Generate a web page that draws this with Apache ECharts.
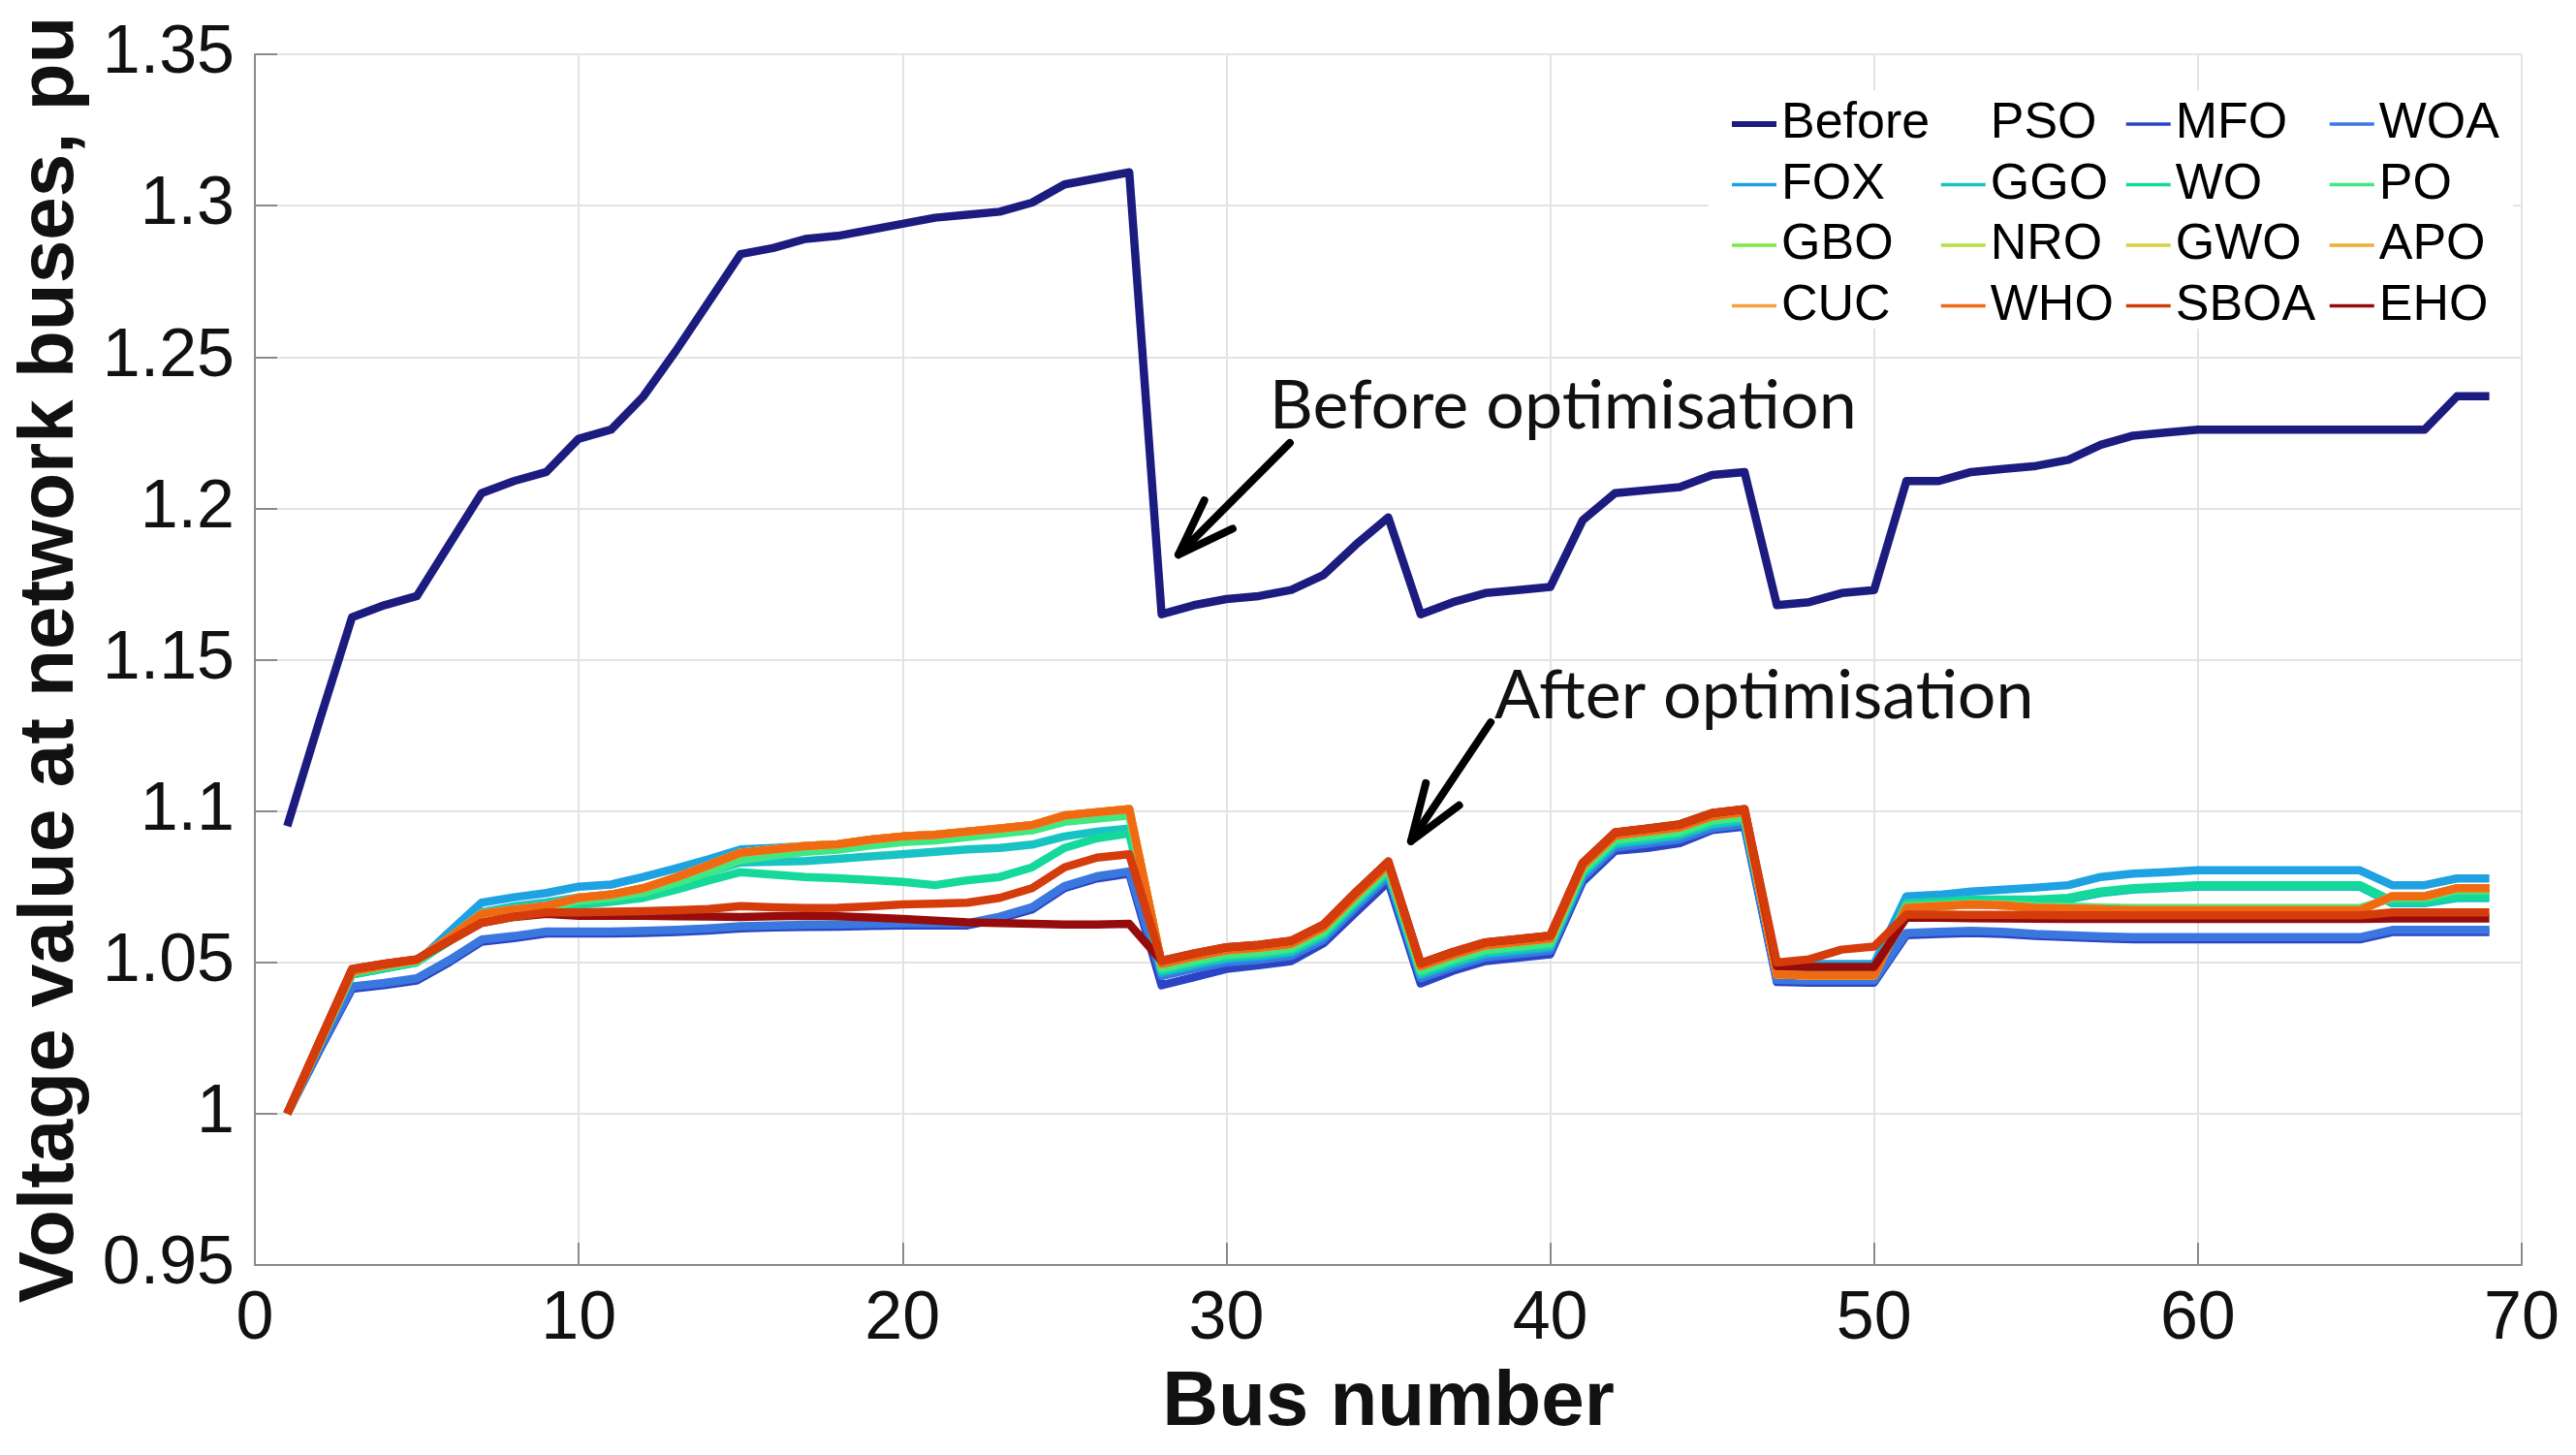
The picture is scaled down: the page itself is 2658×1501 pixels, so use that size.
<!DOCTYPE html>
<html>
<head>
<meta charset="utf-8">
<script src="https://cdn.jsdelivr.net/npm/echarts@6/dist/echarts.min.js"></script>
<style>
  html, body { margin: 0; padding: 0; background: #fff; }
  #main { width: 2658px; height: 1501px; }
</style>
</head>
<body>
<div id="main"></div>
<script>
"use strict";

// bus numbers of the 69-bus network
const buses = [1,2,3,4,5,6,7,8,9,10,11,12,13,14,15,16,17,18,19,20,
  21,22,23,24,25,26,27,28,29,30,31,32,33,34,35,36,37,38,39,40,
  41,42,43,44,45,46,47,48,49,50,51,52,53,54,55,56,57,58,59,60,
  61,62,63,64,65,66,67,68,69];

// voltage before optimisation
const before = [1.095,1.130,1.164,1.168,1.171,1.188,1.205,1.209,1.212,1.223,
  1.226,1.237,1.252,1.268,1.284,1.286,1.289,1.290,1.292,1.294,
  1.296,1.297,1.298,1.301,1.307,1.309,1.311,1.165,1.168,1.170,
  1.171,1.173,1.178,1.188,1.197,1.165,1.169,1.172,1.173,1.174,
  1.196,1.205,1.206,1.207,1.211,1.212,1.168,1.169,1.172,1.173,
  1.209,1.209,1.212,1.213,1.214,1.216,1.221,1.224,1.225,1.226,
  1.226,1.226,1.226,1.226,1.226,1.226,1.226,1.237,1.237];

// PSO has no visible curve in the figure
const pso = [];

const mfo = [1.000,1.021,1.0413,1.0425,1.044,1.050,1.0568,1.058,1.0595,1.0595,
  1.0595,1.0597,1.060,1.0605,1.0612,1.0615,1.0617,1.0618,1.062,1.0622,
  1.0622,1.0622,1.0644,1.0675,1.0745,1.0777,1.0793,1.0424,1.0451,1.0478,
  1.049,1.0504,1.0563,1.0665,1.0766,1.043,1.0472,1.0504,1.0515,1.0526,
  1.0766,1.0868,1.0878,1.0894,1.0937,1.0948,1.0435,1.0433,1.0433,1.0433,
  1.059,1.0594,1.0597,1.0594,1.0587,1.0583,1.0579,1.0576,1.0576,1.0576,
  1.0576,1.0576,1.0576,1.0576,1.0576,1.060,1.060,1.060,1.060];

const woa = [1.000,1.0215,1.042,1.0432,1.0447,1.0507,1.0575,1.0587,1.0602,1.0602,
  1.0602,1.0604,1.0607,1.0612,1.0619,1.0622,1.0624,1.0625,1.0627,1.0629,
  1.0629,1.0629,1.0651,1.0682,1.0752,1.0784,1.080,1.0455,1.0479,1.050,
  1.0508,1.0521,1.0575,1.0682,1.0783,1.0447,1.0484,1.0516,1.0527,1.0538,
  1.0778,1.0879,1.0892,1.0906,1.0943,1.0956,1.0442,1.044,1.044,1.044,
  1.0597,1.0601,1.0604,1.0601,1.0594,1.059,1.0586,1.0583,1.0583,1.0583,
  1.0583,1.0583,1.0583,1.0583,1.0583,1.0607,1.0607,1.0607,1.0607];

const fox = [1.000,1.023,1.046,1.048,1.050,1.060,1.0697,1.0715,1.0729,1.075,
  1.0757,1.0782,1.081,1.084,1.0873,1.0878,1.0884,1.089,1.090,1.0911,
  1.0916,1.0927,1.0937,1.0948,1.098,1.099,1.100,1.0465,1.0489,1.051,
  1.0518,1.0531,1.0585,1.0692,1.0793,1.0457,1.0494,1.0526,1.0537,1.0548,
  1.0788,1.0889,1.0902,1.0916,1.0953,1.0966,1.0475,1.0494,1.0494,1.0494,
  1.0718,1.0723,1.0734,1.074,1.0747,1.0755,1.0782,1.0793,1.0798,1.0804,
  1.0804,1.0804,1.0804,1.0804,1.0804,1.0755,1.0755,1.0777,1.0777];

const ggo = [1.000,1.0232,1.0465,1.0485,1.0503,1.058,1.0665,1.0685,1.0698,1.0715,
  1.0722,1.0738,1.0768,1.0798,1.083,1.0832,1.0835,1.0842,1.085,1.0857,
  1.0865,1.0873,1.0878,1.0889,1.0916,1.0932,1.0942,1.047,1.0494,1.0515,
  1.0523,1.0536,1.059,1.0697,1.0798,1.0462,1.0499,1.0531,1.0542,1.0553,
  1.0793,1.0894,1.0907,1.0921,1.0958,1.0971,1.0468,1.0468,1.0468,1.0468,
  1.069,1.0695,1.0702,1.0702,1.0702,1.0708,1.0729,1.074,1.0745,1.075,
  1.075,1.075,1.075,1.075,1.075,1.0695,1.0695,1.0712,1.0712];

const wo = [1.000,1.023,1.046,1.048,1.050,1.057,1.065,1.0668,1.068,1.069,
  1.070,1.0713,1.074,1.077,1.0798,1.079,1.0782,1.0778,1.0772,1.0766,
  1.0755,1.0771,1.0782,1.0814,1.0878,1.091,1.0926,1.0475,1.0499,1.052,
  1.0528,1.0541,1.0595,1.0702,1.0803,1.0467,1.0504,1.0536,1.0547,1.0558,
  1.0798,1.0899,1.0912,1.0926,1.0963,1.0976,1.0465,1.0462,1.0462,1.0462,
  1.0695,1.070,1.0707,1.0707,1.0707,1.0713,1.0734,1.0745,1.075,1.0755,
  1.0755,1.0755,1.0755,1.0755,1.0755,1.0702,1.0702,1.0718,1.0718];

const po = [1.000,1.0232,1.0465,1.0485,1.0503,1.0575,1.0655,1.0668,1.0678,1.0703,
  1.0712,1.073,1.0762,1.0798,1.0838,1.0852,1.0865,1.0872,1.0886,1.0897,
  1.0903,1.0914,1.0925,1.0936,1.0964,1.0975,1.0985,1.048,1.0504,1.0525,
  1.0533,1.0546,1.060,1.0707,1.0808,1.0472,1.0509,1.0541,1.0552,1.0563,
  1.0803,1.0904,1.0917,1.0931,1.0968,1.0981,1.0463,1.046,1.046,1.046,
  1.0685,1.069,1.0694,1.0692,1.0686,1.0684,1.0681,1.0679,1.0679,1.0679,
  1.0679,1.0679,1.0679,1.0679,1.0679,1.0712,1.0712,1.0738,1.0738];

// WHO forms the upper orange band; GBO, NRO, GWO, APO and CUC lie hidden under it
const who = [1.000,1.0235,1.047,1.049,1.0508,1.058,1.066,1.0675,1.0686,1.0713,
  1.0724,1.0745,1.078,1.082,1.0862,1.0873,1.0884,1.089,1.0905,1.0916,
  1.0921,1.0932,1.0942,1.0953,1.0985,1.0996,1.1006,1.0495,1.0519,1.054,
  1.0548,1.0561,1.0615,1.0722,1.0823,1.0487,1.0524,1.0556,1.0567,1.0578,
  1.0818,1.0919,1.0932,1.0946,1.0983,1.0996,1.046,1.0457,1.0457,1.0457,
  1.068,1.0686,1.0691,1.0688,1.068,1.0678,1.0675,1.0672,1.0672,1.0672,
  1.0672,1.0672,1.0672,1.0672,1.0672,1.0718,1.0718,1.0745,1.0745];

const sboa = [1.000,1.024,1.0478,1.0495,1.051,1.057,1.063,1.065,1.0665,1.0665,
  1.0667,1.0669,1.0672,1.0676,1.0686,1.0682,1.0679,1.068,1.0685,1.0691,
  1.0694,1.0697,1.0713,1.0745,1.0814,1.0846,1.0857,1.0505,1.0529,1.055,
  1.0558,1.0571,1.0625,1.0732,1.0833,1.0497,1.0534,1.0566,1.0577,1.0588,
  1.0828,1.0929,1.0942,1.0956,1.0993,1.1006,1.0499,1.051,1.0542,1.0552,
  1.0658,1.0658,1.0657,1.0657,1.0656,1.0655,1.0655,1.0655,1.0655,1.0655,
  1.0655,1.0655,1.0655,1.0655,1.0655,1.0665,1.0665,1.0665,1.0665];

const eho = [1.000,1.024,1.0478,1.0495,1.051,1.057,1.063,1.065,1.066,1.0654,
  1.0654,1.0654,1.0652,1.0651,1.065,1.0652,1.0654,1.0652,1.0648,1.0643,
  1.0638,1.0632,1.063,1.0627,1.0625,1.0625,1.0627,1.0505,1.0529,1.055,
  1.0558,1.0571,1.0625,1.0732,1.0833,1.0497,1.0534,1.0566,1.0577,1.0588,
  1.0828,1.0929,1.0942,1.0956,1.0993,1.1006,1.0488,1.0485,1.0485,1.0485,
  1.0648,1.0647,1.0646,1.0645,1.0644,1.0643,1.0643,1.0643,1.0643,1.0643,
  1.0643,1.0643,1.0643,1.0643,1.0643,1.0645,1.0645,1.0645,1.0645];

// axis ticks
const xTicks = [0, 70, 10];
const yTicks = [0.95, 1.35, 0.05];

// annotations, in data coordinates
const beforeNoteAt = [31.33, 1.2337];
const beforeArrow = [[31.96, 1.2216], [28.52, 1.1847]];
const afterNoteAt = [38.28, 1.1377];
const afterArrow = [[38.16, 1.1293], [35.70, 1.090]];

const font = "'Liberation Sans', Arial, Helvetica, sans-serif";

// draw order (later on top); legend order is set separately
const seriesDefs = [
  ['Before', before, '#1c1c80'],
  ['PSO', pso, 'rgba(0,0,0,0)'],
  ['MFO', mfo, '#2b44c4'],
  ['WOA', woa, '#3a78e0'],
  ['FOX', fox, '#1ea2e2'],
  ['GGO', ggo, '#19c3c3'],
  ['WO', wo, '#14d99a'],
  ['PO', po, '#3ee882'],
  ['GBO', who, '#78ea40'],
  ['NRO', who, '#b4e23c'],
  ['GWO', who, '#d8d23c'],
  ['APO', who, '#eeae30'],
  ['CUC', who, '#f6a040'],
  ['WHO', who, '#f06a14'],
  ['EHO', eho, '#960c0c'],
  ['SBOA', sboa, '#d43c0c']
];

const legendCols = [
  ['Before', 'FOX', 'GBO', 'CUC'],
  ['PSO', 'GGO', 'NRO', 'WHO'],
  ['MFO', 'WO', 'GWO', 'SBOA'],
  ['WOA', 'PO', 'APO', 'EHO']
];
const legendLeft = [1784, 2001, 2192, 2402];

const series = seriesDefs.map(([name, vals, color]) => ({
  name: name,
  type: 'line',
  data: vals.map((v, i) => [buses[i], v]),
  showSymbol: false,
  symbol: 'none',
  color: color,
  lineStyle: { width: 8.5, color: color, join: 'round' },
  animation: false,
  z: 2
}));

const option = {
  backgroundColor: '#fff',
  animation: false,
  grid: { left: 263, right: 56, top: 56, bottom: 196, containLabel: false },
  xAxis: {
    type: 'value',
    min: xTicks[0], max: xTicks[1], interval: xTicks[2],
    name: 'Bus number',
    nameLocation: 'middle',
    nameGap: 103,
    nameTextStyle: { fontFamily: font, fontSize: 80, fontWeight: 'bold', color: '#111' },
    axisLine: { show: true, onZero: false, lineStyle: { color: '#8a8a8a', width: 2 } },
    axisTick: { show: true, inside: true, length: 23, lineStyle: { color: '#8a8a8a', width: 2 } },
    axisLabel: { fontFamily: font, fontSize: 70, color: '#111', margin: 22 },
    splitLine: { show: true, lineStyle: { color: '#e3e3e3', width: 2 } }
  },
  yAxis: {
    type: 'value',
    min: yTicks[0], max: yTicks[1], interval: yTicks[2],
    name: 'Voltage value at network buses, pu',
    nameLocation: 'middle',
    nameGap: 170,
    nameTextStyle: { fontFamily: font, fontSize: 80, fontWeight: 'bold', color: '#111' },
    axisLine: { show: true, lineStyle: { color: '#8a8a8a', width: 2 } },
    axisTick: { show: true, inside: true, length: 23, lineStyle: { color: '#8a8a8a', width: 2 } },
    axisLabel: {
      fontFamily: font, fontSize: 70, color: '#111', margin: 21,
      formatter: v => String(parseFloat(v.toFixed(2)))
    },
    splitLine: { show: true, lineStyle: { color: '#e3e3e3', width: 2 } }
  },
  legend: legendCols.map((names, i) => ({
    orient: 'vertical',
    left: legendLeft[i],
    top: 102,
    padding: 0,
    itemWidth: 46,
    itemHeight: 20,
    itemGap: 10.5,
    selectedMode: false,
    z: 5,
    textStyle: { fontFamily: font, fontSize: 52, color: '#000', lineHeight: 50 },
    itemStyle: { opacity: 0 },
    lineStyle: { width: 3.5 },
    data: names.map(n => n === 'Before' ? { name: n, lineStyle: { width: 6 } } : n)
  })),
  graphic: [{
    type: 'rect', z: 3,
    shape: { x: 1763, y: 93, width: 830, height: 246 },
    style: { fill: '#fff' }
  }],
  series: series
};

const chart = echarts.init(document.getElementById('main'));
chart.setOption(option);

// arrows and notes are placed from their data coordinates
function px(p) { return chart.convertToPixel({ gridIndex: 0 }, p); }

function arrowEls(arrow) {
  const p0 = px(arrow[0]);
  const p1 = px(arrow[1]);
  const ang = Math.atan2(p0[1] - p1[1], p0[0] - p1[0]);
  const len = 62, spread = 0.34;
  const b1 = [p1[0] + len * Math.cos(ang + spread), p1[1] + len * Math.sin(ang + spread)];
  const b2 = [p1[0] + len * Math.cos(ang - spread), p1[1] + len * Math.sin(ang - spread)];
  const st = { stroke: '#000', lineWidth: 8, lineCap: 'round', lineJoin: 'round', fill: null };
  return [
    { type: 'polyline', z: 6, shape: { points: [p0, p1] }, style: st },
    { type: 'polyline', z: 6, shape: { points: [b1, p1, b2] }, style: st }
  ];
}

function noteEl(text, at) {
  const p = px(at);
  return {
    type: 'text', z: 6, x: p[0], y: p[1],
    style: {
      text: text, fill: '#111',
      fontFamily: "Lato, 'Open Sans', sans-serif", fontSize: 70,
      align: 'left', verticalAlign: 'middle'
    }
  };
}

chart.setOption({
  graphic: [
    { type: 'rect', z: 3, shape: { x: 1763, y: 93, width: 830, height: 246 }, style: { fill: '#fff' } },
    noteEl('Before optimisation', beforeNoteAt),
    noteEl('After optimisation', afterNoteAt)
  ].concat(arrowEls(beforeArrow), arrowEls(afterArrow))
}, { replaceMerge: ['graphic'] });
</script>
</body>
</html>
